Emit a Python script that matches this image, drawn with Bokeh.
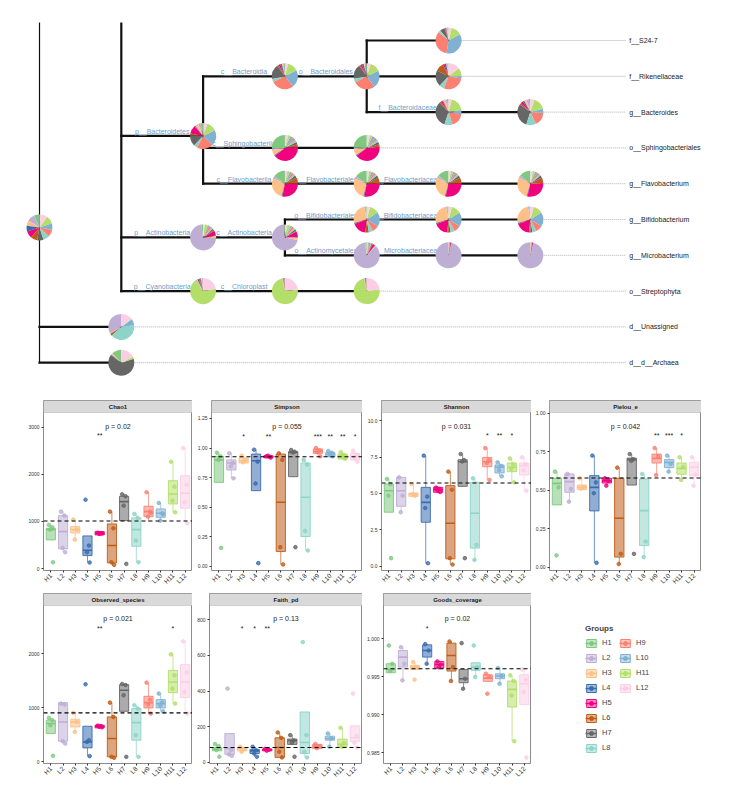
import math
from bokeh.plotting import figure
from bokeh.models import (Range1d, ColumnDataSource, FixedTicker, NumeralTickFormatter,
                          Legend, LegendItem, Label, Span, BoxAnnotation)
from bokeh.layouts import column, row
from bokeh.embed import file_html
from bokeh.resources import INLINE
from bokeh.core.properties import value

FONT = "Liberation Sans"

# ---------------- data ----------------
GROUPS = ["H1", "L2", "H3", "L4", "H5", "L6", "H7", "L8", "H9", "L10", "H11", "L12"]
COLORS = ["#7fc97f", "#beaed4", "#fdc086", "#386cb0", "#f0027f", "#bf5b17",
          "#666666", "#8dd3c7", "#fb8072", "#80b1d3", "#b3de69", "#fccde5"]

# taxonomy tree: (node, parent, rank level)
NODES = [
    ("root", None, 0),
    ("d__Bacteria", "root", 1),
    ("p__Bacteroidetes", "d__Bacteria", 2),
    ("c__Bacteroidia", "p__Bacteroidetes", 3),
    ("o__Bacteroidales", "c__Bacteroidia", 4),
    ("f__S24-7", "o__Bacteroidales", 5),
    ("f__Rikenellaceae", "o__Bacteroidales", 5),
    ("f__Bacteroidaceae", "o__Bacteroidales", 5),
    ("g__Bacteroides", "f__Bacteroidaceae", 6),
    ("c__Sphingobacteriia", "p__Bacteroidetes", 3),
    ("o__Sphingobacteriales", "c__Sphingobacteriia", 4),
    ("c__Flavobacteriia", "p__Bacteroidetes", 3),
    ("o__Flavobacteriales", "c__Flavobacteriia", 4),
    ("f__Flavobacteriaceae", "o__Flavobacteriales", 5),
    ("g__Flavobacterium", "f__Flavobacteriaceae", 6),
    ("p__Actinobacteria", "d__Bacteria", 2),
    ("c__Actinobacteria", "p__Actinobacteria", 3),
    ("o__Bifidobacteriales", "c__Actinobacteria", 4),
    ("f__Bifidobacteriaceae", "o__Bifidobacteriales", 5),
    ("g__Bifidobacterium", "f__Bifidobacteriaceae", 6),
    ("o__Actinomycetales", "c__Actinobacteria", 4),
    ("f__Microbacteriaceae", "o__Actinomycetales", 5),
    ("g__Microbacterium", "f__Microbacteriaceae", 6),
    ("p__Cyanobacteria", "d__Bacteria", 2),
    ("c__Chloroplast", "p__Cyanobacteria", 3),
    ("o__Streptophyta", "c__Chloroplast", 4),
    ("d__Unassigned", "root", 1),
    ("d__d__Archaea", "root", 1),
]
# d__Bacteria has further branches above the visible window
NODE_Y_FIXED = {"d__Bacteria": -0.34}
HIDDEN_SPAN_TOP = {"d__Bacteria": -3.0}

# group composition of each node (H1 ... L12)
PIE = {
    "root":                  [0.07, 0.09, 0.07, 0.07, 0.09, 0.08, 0.08, 0.08, 0.09, 0.08, 0.10, 0.10],
    "p__Bacteroidetes":      [0.03, 0.03, 0.04, 0.01, 0.10, 0.02, 0.13, 0.04, 0.20, 0.18, 0.12, 0.05],
    "c__Bacteroidia":        [0.02, 0.01, 0.01, 0.02, 0.02, 0.02, 0.18, 0.04, 0.28, 0.22, 0.13, 0.04],
    "o__Bacteroidales":      [0.02, 0.01, 0.01, 0.02, 0.02, 0.02, 0.18, 0.05, 0.27, 0.22, 0.13, 0.05],
    "f__S24-7":              [0.01, 0.01, 0.01, 0.005, 0.005, 0.01, 0.06, 0.03, 0.33, 0.35, 0.13, 0.04],
    "f__Rikenellaceae":      [0.01, 0.01, 0.01, 0.02, 0.02, 0.10, 0.20, 0.06, 0.27, 0.03, 0.10, 0.14],
    "f__Bacteroidaceae":     [0.02, 0.02, 0.03, 0.01, 0.02, 0.02, 0.32, 0.10, 0.17, 0.05, 0.18, 0.04],
    "g__Bacteroides":        [0.02, 0.03, 0.03, 0.02, 0.03, 0.02, 0.30, 0.12, 0.17, 0.05, 0.16, 0.05],
    "c__Sphingobacteriia":   [0.25, 0.02, 0.07, 0.01, 0.40, 0.03, 0.03, 0.03, 0.03, 0.04, 0.03, 0.04],
    "o__Sphingobacteriales": [0.24, 0.02, 0.08, 0.01, 0.40, 0.03, 0.03, 0.03, 0.03, 0.04, 0.03, 0.04],
    "c__Flavobacteriia":     [0.15, 0.03, 0.27, 0.01, 0.28, 0.07, 0.03, 0.02, 0.03, 0.03, 0.03, 0.03],
    "o__Flavobacteriales":   [0.15, 0.03, 0.27, 0.01, 0.28, 0.07, 0.03, 0.02, 0.03, 0.03, 0.03, 0.03],
    "f__Flavobacteriaceae":  [0.14, 0.03, 0.28, 0.01, 0.29, 0.07, 0.03, 0.02, 0.03, 0.03, 0.03, 0.03],
    "g__Flavobacterium":     [0.14, 0.03, 0.28, 0.01, 0.29, 0.07, 0.03, 0.02, 0.03, 0.03, 0.03, 0.03],
    "p__Actinobacteria":     [0.02, 0.70, 0.03, 0.005, 0.06, 0.01, 0.02, 0.02, 0.03, 0.02, 0.04, 0.02],
    "c__Actinobacteria":     [0.02, 0.68, 0.03, 0.005, 0.07, 0.01, 0.02, 0.02, 0.03, 0.02, 0.04, 0.03],
    "o__Bifidobacteriales":  [0.01, 0.02, 0.25, 0.01, 0.17, 0.02, 0.02, 0.05, 0.08, 0.17, 0.11, 0.04],
    "f__Bifidobacteriaceae": [0.01, 0.02, 0.25, 0.01, 0.17, 0.02, 0.02, 0.05, 0.08, 0.17, 0.11, 0.04],
    "g__Bifidobacterium":    [0.01, 0.02, 0.25, 0.01, 0.17, 0.02, 0.02, 0.05, 0.08, 0.17, 0.11, 0.04],
    "o__Actinomycetales":    [0.02, 0.86, 0.01, 0.005, 0.03, 0.01, 0.01, 0.01, 0.02, 0.01, 0.01, 0.01],
    "f__Microbacteriaceae":  [0.005, 0.96, 0.002, 0.002, 0.012, 0.002, 0.002, 0.002, 0.01, 0.002, 0.002, 0.002],
    "g__Microbacterium":     [0.005, 0.96, 0.002, 0.002, 0.012, 0.002, 0.002, 0.002, 0.01, 0.002, 0.002, 0.002],
    "p__Cyanobacteria":      [0.01, 0.01, 0.01, 0.005, 0.01, 0.01, 0.02, 0.01, 0.01, 0.005, 0.68, 0.22],
    "c__Chloroplast":        [0.003, 0.002, 0.002, 0.002, 0.003, 0.01, 0.003, 0.002, 0.005, 0.002, 0.74, 0.23],
    "o__Streptophyta":       [0.003, 0.002, 0.002, 0.002, 0.003, 0.01, 0.003, 0.002, 0.005, 0.002, 0.74, 0.23],
    "d__Unassigned":         [0.0, 0.33, 0.01, 0.0, 0.0, 0.02, 0.01, 0.40, 0.0, 0.08, 0.01, 0.14],
    "d__d__Archaea":         [0.12, 0.01, 0.01, 0.0, 0.0, 0.01, 0.65, 0.0, 0.0, 0.0, 0.03, 0.17],
}

# alpha diversity box statistics per group
CHAO1 = dict(
    q1=[607, 416, 755, 275, 713, 120, 1017, 473, 1101, 1087, 1370, 1278],
    med=[826, 784, 826, 388, 745, 487, 1419, 826, 1207, 1172, 1581, 1596],
    q3=[854, 1122, 890, 692, 784, 946, 1532, 1073, 1320, 1264, 1864, 1970],
    lo=[600, 346, 614, 127, 700, 78, 1017, 134, 995, 1017, 1193, 960],
    hi=[925, 1207, 1038, 692, 790, 1207, 1574, 1158, 1617, 1391, 2266, 2556],
    pts=[[925, 875, 826, 134], [1207, 1122, 438, 346], [1038, 826, 614], [1461, 487, 346, 127],
         [760, 745, 735, 750], [1207, 854, 134, 78], [1574, 1532, 1334, 99], [1158, 1073, 593, 134],
         [1617, 1207, 1101, 1180], [1391, 1172, 1017, 1150], [2266, 1737, 1440, 1193], [2556, 1779, 1405, 960]],
    stars={"H5": "**"}, mean=1010, p="p = 0.02")
SIMPSON = dict(
    q1=[0.71, 0.815, 0.874, 0.64, 0.918, 0.126, 0.758, 0.253, 0.955, 0.927, 0.907, 0.90],
    med=[0.90, 0.874, 0.893, 0.893, 0.927, 0.542, 0.963, 0.584, 0.972, 0.949, 0.935, 0.93],
    q3=[0.93, 0.90, 0.916, 0.949, 0.935, 0.949, 0.969, 0.874, 0.992, 0.963, 0.949, 0.955],
    lo=[0.71, 0.744, 0.874, 0.64, 0.915, 0.017, 0.758, 0.135, 0.94, 0.92, 0.90, 0.885],
    hi=[0.96, 0.955, 0.935, 0.986, 0.94, 0.955, 0.983, 0.90, 1.0, 0.975, 0.965, 0.977],
    pts=[[0.96, 0.93, 0.90, 0.157], [0.955, 0.874, 0.845, 0.744], [0.935, 0.90, 0.88], [0.986, 0.885, 0.70, 0.028],
         [0.93, 0.925, 0.935, 0.92], [0.955, 0.90, 0.163, 0.017], [0.983, 0.969, 0.963, 0.163], [0.90, 0.86, 0.30, 0.135],
         [1.0, 0.98, 0.965, 0.93], [0.975, 0.96, 0.94, 0.93], [0.965, 0.94, 0.93, 0.91], [0.977, 0.94, 0.915, 0.885]],
    stars={"H3": "*", "H5": "**", "H9": "***", "L10": "**", "H11": "**", "L12": "*"}, mean=0.927, p="p = 0.055")
SHANNON = dict(
    q1=[3.71, 4.12, 4.80, 3.02, 5.08, 0.5, 5.49, 1.24, 6.84, 6.41, 6.5, 6.27],
    med=[5.19, 5.19, 4.97, 4.39, 5.26, 2.95, 7.18, 3.64, 7.18, 6.8, 6.8, 6.91],
    q3=[5.65, 6.11, 5.03, 5.42, 5.42, 5.54, 7.32, 5.77, 7.48, 6.96, 7.09, 7.09],
    lo=[3.71, 3.71, 4.75, 0.2, 5.0, 0.11, 5.49, 0.43, 5.93, 6.18, 5.77, 5.19],
    hi=[6.0, 6.11, 5.65, 7.6, 5.5, 6.5, 7.71, 6.04, 8.12, 7.14, 7.41, 7.48],
    pts=[[6.0, 5.65, 4.85, 0.55], [6.11, 4.85, 3.71], [5.65, 4.85, 4.95], [7.6, 4.78, 4.0, 0.2],
         [5.4, 5.3, 5.2, 5.1], [6.5, 5.26, 0.55, 0.11], [7.71, 7.3, 7.2, 0.55], [6.04, 1.46, 0.43],
         [8.12, 7.3, 7.1, 5.93], [7.14, 6.9, 6.6, 6.18], [7.41, 7.0, 6.7, 5.77], [7.48, 7.0, 6.6, 5.19]],
    stars={"H9": "*", "L10": "**", "H11": "*"}, mean=5.72, p="p = 0.031")
PIELOU = dict(
    q1=[0.404, 0.486, 0.503, 0.365, 0.546, 0.065, 0.533, 0.14, 0.676, 0.646, 0.603, 0.594],
    med=[0.544, 0.555, 0.518, 0.518, 0.56, 0.317, 0.698, 0.367, 0.706, 0.68, 0.641, 0.648],
    q3=[0.577, 0.605, 0.533, 0.594, 0.577, 0.577, 0.708, 0.572, 0.734, 0.698, 0.676, 0.68],
    lo=[0.404, 0.425, 0.503, 0.028, 0.53, 0.02, 0.533, 0.065, 0.598, 0.62, 0.566, 0.529],
    hi=[0.62, 0.61, 0.577, 0.724, 0.58, 0.646, 0.734, 0.605, 0.773, 0.724, 0.713, 0.713],
    pts=[[0.62, 0.518, 0.076], [0.605, 0.508, 0.425], [0.577, 0.52, 0.51], [0.724, 0.55, 0.48, 0.028],
         [0.577, 0.56, 0.529], [0.646, 0.086, 0.02], [0.734, 0.70, 0.69, 0.086], [0.605, 0.166, 0.065],
         [0.773, 0.72, 0.598], [0.724, 0.67, 0.62], [0.713, 0.65, 0.566], [0.713, 0.60, 0.529]],
    stars={"H9": "**", "L10": "***", "H11": "*"}, mean=0.579, p="p = 0.042")
OBSERVED = dict(
    q1=[523, 382, 646, 258, 628, 92, 935, 400, 997, 997, 1280, 1188],
    med=[708, 738, 738, 369, 658, 431, 1323, 726, 1095, 1077, 1477, 1477],
    q3=[769, 1095, 788, 658, 677, 831, 1428, 985, 1212, 1151, 1692, 1797],
    lo=[523, 338, 554, 105, 620, 74, 935, 92, 892, 935, 1077, 892],
    hi=[812, 1095, 905, 658, 690, 1095, 1440, 1046, 1465, 1262, 1988, 2228],
    pts=[[812, 770, 677, 111], [1077, 1060, 382, 338], [905, 738, 554], [1434, 400, 369, 105],
         [670, 660, 650, 640], [1095, 831, 92, 74], [1440, 1420, 1231, 92], [1046, 985, 492, 92],
         [1465, 1150, 1060, 892], [1262, 1100, 1040, 935], [1988, 1600, 1354, 1077], [2228, 1650, 1292, 892]],
    stars={"H5": "**", "H11": "*"}, mean=905, p="p = 0.021")
FAITH = dict(
    q1=[65, 45, 65, 50, 65, 28, 101, 50, 78, 125, 88, 116],
    med=[75, 78, 75, 65, 71, 84, 123, 112, 90, 134, 101, 138],
    q3=[84, 162, 82, 73, 76, 138, 131, 283, 101, 147, 131, 205],
    lo=[65, 37, 60, 32, 63, 28, 101, 28, 75, 88, 84, 84],
    hi=[103, 162, 88, 88, 78, 168, 153, 283, 105, 162, 194, 205],
    pts=[[103, 91, 70, 32], [414, 69, 45, 37], [88, 75, 60], [88, 68, 50, 32],
         [76, 71, 66], [168, 138, 60, 28], [153, 123, 110, 32], [675, 153, 60, 28],
         [103, 90, 80], [162, 135, 88], [194, 110, 88], [386, 150, 110, 84]],
    stars={"H3": "*", "L4": "*", "H5": "**"}, mean=84, p="p = 0.13")
GOODS = dict(
    q1=[0.99553, 0.99627, 0.99596, 0.99759, 0.99614, 0.99575, 0.99421, 0.99583, 0.99439, 0.99474, 0.99101, 0.99132],
    med=[0.99596, 0.99759, 0.99627, 0.99846, 0.99662, 0.99781, 0.99474, 0.99627, 0.99482, 0.99509, 0.99333, 0.99408],
    q3=[0.99671, 0.99846, 0.99649, 0.99921, 0.99702, 0.99943, 0.99596, 0.99684, 0.99526, 0.99539, 0.99443, 0.99526],
    lo=[0.99553, 0.99452, 0.99596, 0.99671, 0.99610, 0.99443, 0.99342, 0.99496, 0.99439, 0.99408, 0.98649, 0.99132],
    hi=[0.99671, 0.99890, 0.99693, 0.99930, 0.99710, 0.99965, 0.99596, 0.99684, 0.99540, 0.99614, 0.99518, 0.99596],
    pts=[[0.99912, 0.99671, 0.99575], [0.9989, 0.99671, 0.99452], [0.99693, 0.99627, 0.99461], [0.9993, 0.99846, 0.99671],
         [0.99702, 0.99662, 0.99625], [0.99965, 0.99627, 0.99443], [0.99943, 0.99474, 0.99342], [0.99912, 0.99627, 0.99496],
         [0.99540, 0.99500, 0.99276], [0.99614, 0.99509, 0.99408], [0.99518, 0.99443, 0.99254, 0.98649],
         [0.99596, 0.99460, 0.99300, 0.98434]],
    stars={"L4": "*"}, mean=0.99605, p="p = 0.02")

# ---------------- layout / style ----------------
LAYOUT = {
    "Chao1":            dict(yr=(-42, 3311), ticks=[0, 1000, 2000, 3000], fmt="0", p_y=3010, star_y=2817),
    "Simpson":          dict(yr=(-0.034, 1.30), ticks=[0, 0.25, 0.5, 0.75, 1.0, 1.25], fmt="0.00", p_y=1.18, star_y=1.10),
    "Shannon":          dict(yr=(-0.3, 10.57), ticks=[0, 2.5, 5, 7.5, 10], fmt="0.0", p_y=9.61, star_y=8.97),
    "Pielou_e":         dict(yr=(-0.022, 1.004), ticks=[0, 0.25, 0.5, 0.75, 1.0], fmt="0.00", p_y=0.914, star_y=0.853),
    "Observed_species": dict(yr=(-31, 2892), ticks=[0, 1000, 2000], fmt="0", p_y=2646, star_y=2462),
    "Faith_pd":         dict(yr=(-6, 880), ticks=[0, 200, 400, 600, 800], fmt="0", p_y=806, star_y=750),
    "Goods_coverage":   dict(yr=(0.98355, 1.0044), ticks=[0.985, 0.990, 0.995, 1.000], fmt="0.000", p_y=1.00263, star_y=1.0014),
}
PANEL_H = 158
STRIP_H = 12
JIT = [-0.16, 0.12, -0.04, 0.18, -0.1]
BOX_HALF = 0.375


def group_source(d):
    xs = list(range(1, 13))
    return ColumnDataSource(dict(
        x=xs, left=[x - BOX_HALF for x in xs], right=[x + BOX_HALF for x in xs],
        q1=d["q1"], med=d["med"], q3=d["q3"], lo=d["lo"], hi=d["hi"], color=COLORS))


def make_panel(title, d, left, fw, bottom):
    lay = LAYOUT[title]
    y0, y1 = lay["yr"]
    y_ext = y1 + (y1 - y0) * STRIP_H / PANEL_H
    p = figure(frame_width=fw, frame_height=PANEL_H + STRIP_H,
               min_border_left=left, min_border_right=0, min_border_top=0, min_border_bottom=bottom,
               x_range=Range1d(0.4, 12.6), y_range=Range1d(y0, y_ext),
               toolbar_location=None, output_backend="svg", align="start",
               outline_line_color="#8c8c8c", outline_line_width=1)
    p.grid.visible = False
    p.add_layout(BoxAnnotation(left=0.4, right=12.6, bottom=y1, top=y_ext,
                               fill_color="#d9d9d9", fill_alpha=1.0,
                               line_color="#8c8c8c", line_width=1))
    p.add_layout(Label(x=6.5, y=(y1 + y_ext) / 2, text=title, text_align="center",
                       text_baseline="middle", text_font=FONT, text_font_size="6px",
                       text_font_style="bold", text_color="#1a1a1a"))
    src = group_source(d)
    p.segment("x", "q3", "x", "hi", source=src, line_color="color", line_width=0.9, line_alpha=0.8)
    p.segment("x", "q1", "x", "lo", source=src, line_color="color", line_width=0.9, line_alpha=0.8)
    p.quad(left="left", right="right", bottom="q1", top="q3", source=src,
           fill_color="color", fill_alpha=0.55, line_color="color", line_width=0.9)
    p.segment("left", "med", "right", "med", source=src, line_color="color", line_width=1.6)
    px, py, pc = [], [], []
    for i, vals in enumerate(d["pts"]):
        for j, v in enumerate(vals):
            px.append(i + 1 + JIT[j % len(JIT)])
            py.append(v)
            pc.append(COLORS[i])
    p.scatter(px, py, size=3.6, fill_color=pc, line_color=pc, fill_alpha=0.8, line_alpha=0.8)
    p.add_layout(Span(location=d["mean"], dimension="width", line_dash="4 3",
                      line_color="black", line_width=1.1))
    sx = [GROUPS.index(g) + 1 for g in d["stars"]]
    p.text(x=sx, y=[lay["star_y"]] * len(sx), text=list(d["stars"].values()),
           text_align="center", text_baseline="middle", text_font=value(FONT),
           text_font_size="7px", text_color="#1a1a1a")
    p.text(x=[6.5], y=[lay["p_y"]], text=[d["p"]], text_align="center", text_baseline="middle",
           text_font=value(FONT), text_font_size="7px", text_color="#1a1a1a")
    # axes
    xs = list(range(1, 13))
    p.yaxis.ticker = FixedTicker(ticks=lay["ticks"])
    p.yaxis.formatter = NumeralTickFormatter(format=lay["fmt"])
    p.xaxis.ticker = FixedTicker(ticks=xs)
    p.xaxis.major_label_overrides = {i + 1: g for i, g in enumerate(GROUPS)}
    p.xaxis.major_label_orientation = math.pi / 4
    for ax in (p.xaxis, p.yaxis):
        ax.axis_line_color = None
        ax.minor_tick_line_color = None
        ax.major_tick_in = 0
        ax.major_tick_out = 2
        ax.major_tick_line_color = "#333333"
        ax.major_label_standoff = 2
        ax.major_label_text_font = FONT
        ax.major_label_text_color = "#333333"
    p.yaxis.major_label_text_font_size = "5px"
    p.xaxis.major_label_text_font_size = "6.5px"
    return p


# ---------------- tree ----------------
names = [n[0] for n in NODES]
parent = {n[0]: n[1] for n in NODES}
level = {n[0]: n[2] for n in NODES}
children = {n: [] for n in names}
for n, par, _ in NODES:
    if par:
        children[par].append(n)
leaves = [n for n in names if not children[n]]
leaf_idx = {lf: i + 1 for i, lf in enumerate(leaves)}


def ypos(n):
    if n in NODE_Y_FIXED:
        return NODE_Y_FIXED[n]
    if not children[n]:
        return leaf_idx[n]
    cs = [ypos(c) for c in children[n]]
    return sum(cs) / len(cs)


Y = {n: -ypos(n) for n in names}   # plot upwards: first leaf at top

LABEL_X = 7.21
tp = figure(width=726, height=400, min_border_top=22, min_border_bottom=20,
            min_border_left=0, min_border_right=0,
            x_range=Range1d(-0.4768, 8.398), y_range=Range1d(-10.497, -0.497),
            toolbar_location=None, output_backend="svg", align="start",
            x_axis_location=None, y_axis_location=None, outline_line_color=None)
tp.grid.visible = False

# dotted lines from tips to their labels
tp.segment(x0=[level[l] for l in leaves], y0=[Y[l] for l in leaves],
           x1=[LABEL_X - 0.04] * len(leaves), y1=[Y[l] for l in leaves],
           line_color="#9a9a9a", line_width=0.8, line_dash="1 1")

hx0, hy0, hx1, hy1 = [], [], [], []
for n in names:
    par = parent[n]
    if par:
        hx0.append(level[par]); hx1.append(level[n]); hy0.append(Y[n]); hy1.append(Y[n])
tp.segment(x0=hx0, y0=hy0, x1=hx1, y1=hy1, line_color="#111111", line_width=2.2, line_cap="square")

vx, vy0, vy1, vw = [], [], [], []
for n in names:
    if children[n]:
        cy = [Y[c] for c in children[n]]
        top = max(cy)
        if n in HIDDEN_SPAN_TOP:
            top = -HIDDEN_SPAN_TOP[n]
        vx.append(level[n]); vy0.append(min(cy)); vy1.append(top)
        vw.append(1.2 if parent[n] is None else 2.2)
tp.segment(x0=vx, y0=vy0, x1=vx, y1=vy1, line_color="#111111", line_width=vw, line_cap="square")

# branch labels of internal nodes (centered on branch)
inner = [n for n in names if children[n] and parent[n] and n in PIE]
tp.text(x=[(level[n] + level[parent[n]]) / 2 for n in inner], y=[Y[n] for n in inner],
        text=inner, text_align="center", text_baseline="bottom", y_offset=-1,
        text_font=value(FONT), text_font_size="7px", text_color="#6f9cc8")

# pies
wx, wy, ws, we, wc = [], [], [], [], []
for n in names:
    if n not in PIE:
        continue
    fr = PIE[n]
    tot = sum(fr)
    cum = 0.0
    for g, f in enumerate(fr):
        if f <= 0:
            continue
        s = math.pi / 2 + 2 * math.pi * cum / tot
        cum += f
        e = math.pi / 2 + 2 * math.pi * cum / tot
        wx.append(level[n]); wy.append(Y[n]); ws.append(s); we.append(e); wc.append(COLORS[g])
tp.wedge(x=wx, y=wy, radius=13, radius_units="screen", start_angle=ws, end_angle=we,
         fill_color=wc, line_color=None)

tp.text(x=[LABEL_X] * len(leaves), y=[Y[l] for l in leaves], text=leaves,
        text_align="left", text_baseline="middle", text_font=value(FONT),
        text_font_size="7px", text_color="#222222")

# ---------------- panels ----------------
p1 = make_panel("Chao1", CHAO1, 43, 149, 23)
p2 = make_panel("Simpson", SIMPSON, 19, 151, 23)
p3 = make_panel("Shannon", SHANNON, 19, 150, 23)
p4 = make_panel("Pielou_e", PIELOU, 18, 152, 23)
p5 = make_panel("Observed_species", OBSERVED, 43, 149, 17)
p6 = make_panel("Faith_pd", FAITH, 17, 153, 17)
p7 = make_panel("Goods_coverage", GOODS, 21, 148, 17)

# ---------------- legend ----------------
lf = figure(frame_width=180, frame_height=PANEL_H + STRIP_H, min_border_left=0, min_border_top=0,
            min_border_right=0, min_border_bottom=17,
            x_range=Range1d(0, 1), y_range=Range1d(0, 1),
            toolbar_location=None, output_backend="svg", align="start",
            x_axis_location=None, y_axis_location=None, outline_line_color=None)
lf.grid.visible = False
lsrc = group_source(GOODS)
rq = lf.quad(left="left", right="right", bottom="q1", top="q3", source=lsrc,
             fill_color="color", fill_alpha=0.45, line_color="color", line_width=1, visible=False)
rs = lf.segment("left", "med", "right", "med", source=lsrc, line_color="color",
                line_width=1.4, visible=False)
rc = lf.scatter("x", "med", source=lsrc, size=3, fill_color="color", line_color="color", visible=False)
items = [LegendItem(label=g, renderers=[rq, rs, rc], index=i) for i, g in enumerate(GROUPS)]
leg = Legend(items=items, location=(54, 10), nrows=8, title="Groups",
             title_text_font=FONT, title_text_font_size="8px", title_text_font_style="bold",
             title_standoff=4, label_text_font=FONT, label_text_font_size="7.5px",
             label_height=11, label_width=13, glyph_height=10, glyph_width=12, label_standoff=5,
             spacing=4, padding=0, margin=0, border_line_color=None, background_fill_alpha=0,
             inactive_fill_alpha=0)
lf.add_layout(leg)

layout = column(tp, row(p1, p2, p3, p4), row(p5, p6, p7, lf))
open("out.html", "w").write(file_html(layout, INLINE))
